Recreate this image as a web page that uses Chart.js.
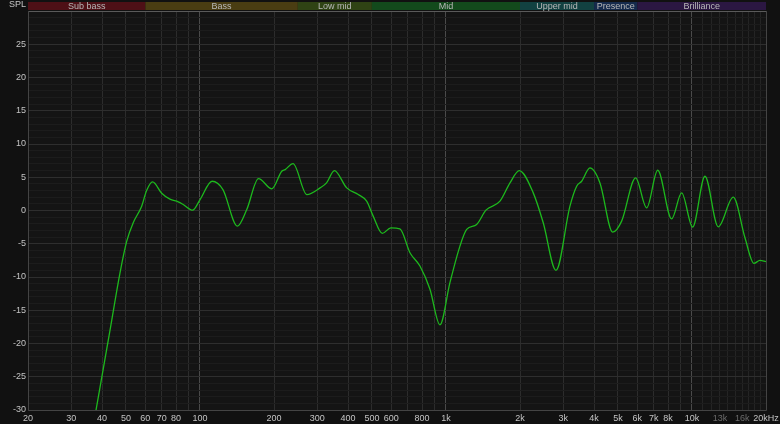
<!DOCTYPE html>
<html>
<head>
<meta charset="utf-8">
<script src="https://cdn.jsdelivr.net/npm/chart.js@4/dist/chart.umd.min.js"></script>
<style>
  html, body { margin: 0; padding: 0; background: #111111; }
  #wrap { width: 780px; height: 424px; }
</style>
</head>
<body>
<div id="wrap"><canvas id="fr" width="780" height="424"></canvas></div>
<script>
// frequency response (Hz, dB)
const freqs = [37.4, 43.1, 47.3, 50.4, 53.6, 57.9, 60.7, 64.2, 69.9, 75.5, 81.6, 85.5, 93.4, 100, 112, 124, 142, 155, 173, 196, 215, 222, 239, 272, 308, 327, 352, 395, 440, 476, 506, 551, 597, 650, 714, 784, 861, 945, 1038, 1140, 1214, 1333, 1454, 1658, 1821, 1986, 2264, 2486, 2801, 3192, 3399, 3562, 3850, 4227, 4761, 5179, 5903, 6545, 7256, 8271, 9082, 10065, 11293, 12793, 14722, 16428, 17864, 18895, 20000];
const spl = [-31, -18, -9.4, -4.6, -1.8, 0.6, 3.0, 4.3, 2.6, 1.7, 1.3, 0.9, 0.05, 1.6, 4.4, 3.15, -2.35, 0.15, 4.8, 3.25, 5.9, 6.15, 7.05, 2.4, 3.4, 4.15, 6.0, 3.4, 2.4, 1.4, -0.85, -3.45, -2.6, -2.75, -6.35, -8.35, -11.85, -17.2, -10.85, -5.35, -2.85, -2.1, 0.05, 1.4, 4.15, 6.0, 2.65, -1.85, -9.0, 0.65, 3.65, 4.4, 6.4, 4.15, -3.25, -1.6, 4.9, 0.4, 6.05, -1.25, 2.65, -2.5, 5.15, -2.45, 2.0, -4.1, -7.95, -7.5, -7.7];

// x grid lines and which of them get a label
const gridFreqs = [20, 30, 40, 50, 60, 70, 80, 90, 100, 200, 300, 400, 500, 600, 700, 800, 900, 1000, 2000, 3000, 4000, 5000, 6000, 7000, 8000, 9000, 10000, 11000, 12000, 13000, 14000, 15000, 16000, 17000, 18000, 19000, 20000];
const labelFreqs = [20, 30, 40, 50, 60, 70, 80, 100, 200, 300, 400, 500, 600, 800, 1000, 2000, 3000, 4000, 5000, 6000, 7000, 8000, 10000, 13000, 16000, 20000];
const labelTexts = ['20', '30', '40', '50', '60', '70', '80', '100', '200', '300', '400', '500', '600', '800', '1k', '2k', '3k', '4k', '5k', '6k', '7k', '8k', '10k', '13k', '16k', '20kHz'];
const dimLabels = [13000, 16000];
const decadeLines = [100, 1000, 10000];

// bands across the top
const bandNames = ['Sub bass', 'Bass', 'Low mid', 'Mid', 'Upper mid', 'Presence', 'Brilliance'];
const bandEdges = [20, 60, 250, 500, 2000, 4000, 6000, 20000];
const bandColors = ['#4e1016', '#4a3d12', '#2f4314', '#134a1c', '#124141', '#152a4c', '#2b1742'];

const yMin = -30, yMax = 30;

const txt = '#c4c4c4';
const fontFam = '"Liberation Sans", Arial, sans-serif';

let decor = {
    id: 'decor',
    beforeDraw(chart){
        let c = chart.ctx;
        let a = chart.chartArea;
        c.save();
        c.fillStyle = '#111111';
        c.fillRect(0, 0, chart.width, chart.height);
        c.fillStyle = '#141414';
        c.fillRect(a.left, a.top, a.right - a.left, a.bottom - a.top);
        c.restore();
    },
    afterDraw(chart){
        let c = chart.ctx;
        let a = chart.chartArea;
        let x = chart.scales.x;
        c.save();
        // band bar
        for(let i = 0; i < bandNames.length; i++){
            let x0 = x.getPixelForValue(bandEdges[i]);
            let x1 = x.getPixelForValue(bandEdges[i + 1]);
            c.fillStyle = bandColors[i];
            c.fillRect(x0, 2, x1 - x0, 8);
            c.fillStyle = '#b8b8b8';
            c.font = '9px ' + fontFam;
            c.textAlign = 'center';
            c.textBaseline = 'middle';
            c.fillText(bandNames[i], (x0 + x1) / 2, 6.5);
        }
        c.strokeStyle = '#5a5a5a';
        c.lineWidth = 1;
        c.beginPath();
        c.moveTo(a.left, a.top + 0.5);
        c.lineTo(a.right, a.top + 0.5);
        c.stroke();
        // frame
        c.strokeStyle = '#444444';
        c.beginPath();
        c.moveTo(a.left + 0.5, a.top);
        c.lineTo(a.left + 0.5, a.bottom + 0.5);
        c.lineTo(a.right + 0.5, a.bottom + 0.5);
        c.lineTo(a.right + 0.5, a.top);
        c.stroke();
        // SPL label
        c.fillStyle = txt;
        c.font = '9px ' + fontFam;
        c.textAlign = 'right';
        c.textBaseline = 'middle';
        c.fillText('SPL', 26, 5);
        c.restore();
    }
};

let ctx = document.getElementById('fr').getContext('2d');

let config = {
    type: 'line',
    data: {
        datasets: [{
            data: freqs.map((f, i) => ({x: f, y: spl[i]})),
            borderColor: '#1db91d',
            borderWidth: 1.3,
            pointRadius: 0,
            cubicInterpolationMode: 'monotone',
            fill: false
        }]
    },
    options: {
        responsive: false,
        animation: false,
        layout: { padding: { top: 11, right: 0, left: 0, bottom: 0 } },
        plugins: {
            legend: { display: false },
            tooltip: { enabled: false }
        },
        scales: {
            x: {
                type: 'logarithmic',
                min: 20,
                max: 20000,
                afterBuildTicks: (s) => { s.ticks = gridFreqs.map(v => ({value: v})); },
                afterFit: (s) => { s.height = 14; s.paddingRight = 14; s.paddingLeft = 0; },
                border: { display: false },
                grid: {
                    drawTicks: false,
                    color: (g) => {
                        let v = g.tick ? g.tick.value : 0;
                        if(decadeLines.includes(v)) return '#4a4a4a';
                        if(v >= 11000) return '#242424';
                        return '#2c2c2c';
                    },
                    lineWidth: 1
                },
                ticks: {
                    autoSkip: false,
                    maxRotation: 0,
                    padding: 3,
                    font: { family: fontFam, size: 9 },
                    color: (g) => dimLabels.includes(g.tick.value) ? '#6c6c6c' : txt,
                    callback: (v) => {
                        let i = labelFreqs.indexOf(v);
                        return i >= 0 ? labelTexts[i] : '';
                    }
                }
            },
            y: {
                min: yMin,
                max: yMax,
                afterFit: (s) => { s.width = 28; s.paddingTop = 0; s.paddingBottom = 0; },
                border: { display: false },
                grid: {
                    drawTicks: false,
                    color: (g) => (g.tick && g.tick.value % 5 == 0) ? '#2e2e2e' : '#1c1c1c'
                },
                ticks: {
                    stepSize: 1,
                    autoSkip: false,
                    padding: 2,
                    font: { family: fontFam, size: 9 },
                    color: txt,
                    callback: (v) => (v % 5 == 0 && v != yMax) ? String(v) : ''
                }
            }
        }
    },
    plugins: [decor]
};

let chart = new Chart(ctx, config);
</script>
</body>
</html>
